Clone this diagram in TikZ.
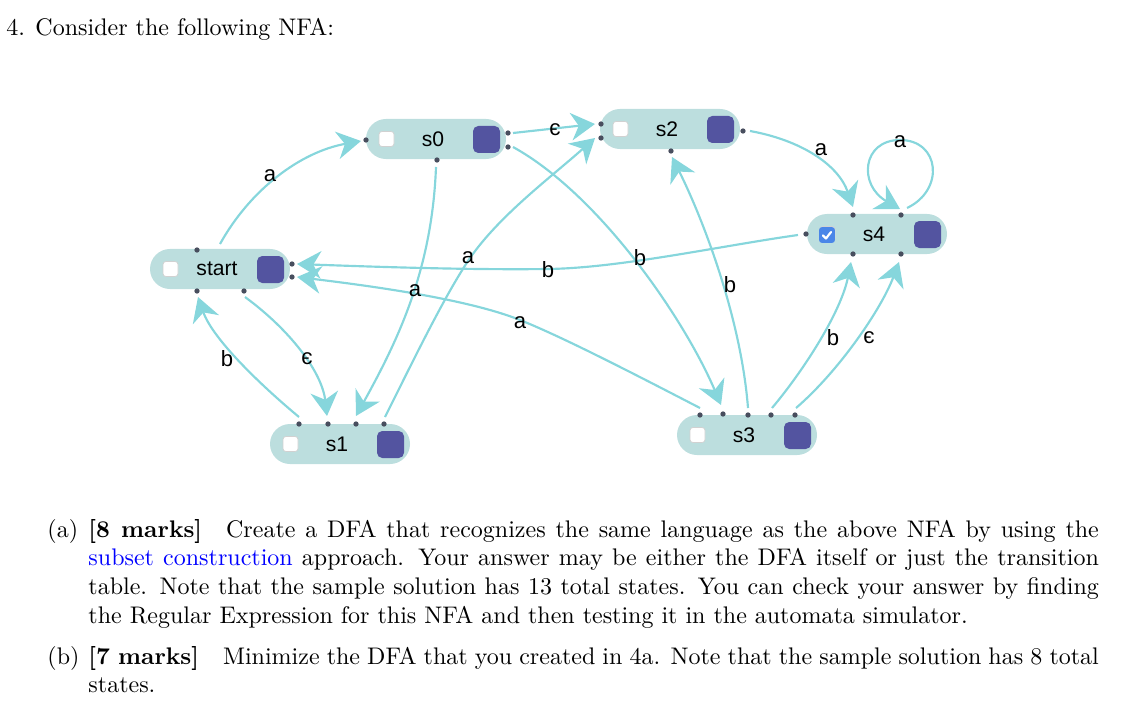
\documentclass[tikz,border=0pt]{standalone}
\usepackage{fontspec}
\newfontfamily\dfont{Liberation Sans}
\usetikzlibrary{arrows.meta,calc}
\definecolor{pillc}{RGB}{188,222,222}
\definecolor{accc}{RGB}{83,84,160}
\definecolor{edgec}{RGB}{134,214,220}
\definecolor{dotc}{RGB}{72,78,94}
\definecolor{chkblue}{RGB}{74,134,232}
\begin{document}
\begin{tikzpicture}[x=0.41667pt,y=-0.41667pt,
  pill/.style={fill=pillc, rounded corners=8.33pt, minimum width=58.33pt, minimum height=16.67pt, inner sep=0pt},
  chk/.style={fill=white, draw=black!18, line width=0.3pt, rounded corners=1.2pt, minimum size=6.25pt, inner sep=0pt},
  chkon/.style={fill=chkblue, rounded corners=1.2pt, minimum size=6.6pt, inner sep=0pt},
  acc/.style={fill=accc, rounded corners=2.2pt, minimum size=11.25pt, inner sep=0pt},
  slab/.style={font=\dfont\fontsize{8.8}{10}\selectfont, inner sep=0pt},
  elab/.style={font=\dfont\fontsize{9.2}{10}\selectfont, inner sep=0pt},
  port/.style={circle, fill=dotc, minimum size=2.2pt, inner sep=0pt},
  conn/.style={draw=edgec, line width=0.9pt, -{Stealth[length=10pt,width=11.5pt,inset=3.2pt]}},
  txt/.style={anchor=base west, inner sep=0pt, font=\fontsize{10}{12}\selectfont},
]
\useasboundingbox (0,0) rectangle (1144,704);

% ---------- text ----------
\node[txt] (num) at (6,36) {4.};
\node[txt] (title) at (35,36) {Consider the following NFA:};
\node[txt] (la) at (47,537) {(a)};
\node[txt] (ta) at (88,537) {\parbox[t]{421pt}{\textbf{[8 marks]}\quad Create a DFA that recognizes the same language as the above NFA by using the\linebreak \textcolor{blue}{subset construction} approach. Your answer may be either the DFA itself or just the transition\linebreak table. Note that the sample solution has 13 total states. You can check your answer by finding\linebreak the Regular Expression for this NFA and then testing it in the automata simulator.}};
\node[txt] (lb) at (47,664) {(b)};
\node[txt] (tb) at (88,664) {\parbox[t]{421pt}{\textbf{[7 marks]}\quad Minimize the DFA that you created in 4a. Note that the sample solution has 8 total\linebreak states.}};

% ---------- states ----------
\foreach \n/\x/\y/\t in {start/220/269/start, s0/436/139/s0, s2/670/129/s2, s4/877/234/s4, s1/340/444/s1, s3/747/435/s3}{
  \node[pill] (\n) at (\x,\y) {};
  \node[chk] (\n-chk) at (\x-49.5,\y) {};
  \node[slab] (\n-lab) at (\x-3,\y) {\t};
  \node[acc] (\n-acc) at (\x+50.5,\y+0.5) {};
}
\node[chkon] (s4-on) at (827,235) {};
\draw[white, line width=0.9pt, line cap=round, line join=round]
  ($(s4-on)+(-4,0.5)$) -- ($(s4-on)+(-1,3.5)$) -- ($(s4-on)+(4,-3)$);

% ---------- ports ----------
\foreach \p/\x/\y in {p0/366/140, p1/508/133, p2/508/147, p3/437/160,
  p4/197/250, p5/292/264, p6/292/277, p7/197/291, p8/244/291,
  p9/601/124, p10/601/138, p11/743/131, p12/671/151,
  p13/806/234, p14/853/215, p15/901/215, p16/853/254, p17/901/254,
  p18/299/424, p19/328/424, p20/356/424, p21/384/424,
  p22/700/415, p23/723/414, p24/748/415, p25/771/415, p26/795/415}{
  \node[port] (\p) at (\x,\y) {};
}

% ---------- connector ends ----------
\coordinate (e1s) at (220,244);  \coordinate (e1t) at (361,141);
\coordinate (e2s) at (513,133);  \coordinate (e2t) at (595,124);
\coordinate (e3s) at (513,147);  \coordinate (e3t) at (721,405);
\coordinate (e4s) at (750,131);  \coordinate (e4t) at (853,207);
\coordinate (e5s) at (907,208);  \coordinate (e5t) at (900,209);
\coordinate (e6s) at (798,235);  \coordinate (e6t) at (297,264);
\coordinate (e7s) at (700,408);  \coordinate (e7t) at (297,277);
\coordinate (e8s) at (245,297);  \coordinate (e8t) at (327,416);
\coordinate (e9s) at (299,417);  \coordinate (e9t) at (198,297);
\coordinate (e10s) at (436,167); \coordinate (e10t) at (356,416);
\coordinate (e11s) at (385,417); \coordinate (e11t) at (595,138);
\coordinate (e12s) at (748,408); \coordinate (e12t) at (672,157);
\coordinate (e13s) at (772,408); \coordinate (e13t) at (851,262);
\coordinate (e14s) at (796,408); \coordinate (e14t) at (899,262);

% ---------- connectors ----------
\draw[conn] (e1s) .. controls (250,190) and (300,152) .. (e1t);
\draw[conn] (e2s) -- (e2t);
\draw[conn] (e3s) .. controls (600,195) and (685,320) .. (e3t);
\draw[conn] (e4s) .. controls (800,140) and (838,164) .. (e4t);
\draw[conn] (e5s) .. controls (945,190) and (940,140) .. (900,140) .. controls (862,140) and (858,185) .. (e5t);
\draw[conn] (e6s) .. controls (720,246) and (620,268) .. (548,269) .. controls (470,270) and (380,267) .. (e6t);
\draw[conn] (e7s) .. controls (640,377) and (565,338) .. (520,320) .. controls (470,300) and (380,287) .. (e7t);
\draw[conn] (e8s) .. controls (290,330) and (322,372) .. (e8t);
\draw[conn] (e9s) .. controls (264,388) and (213,340) .. (e9t);
\draw[conn] (e10s) .. controls (432,270) and (398,340) .. (e10t);
\draw[conn] (e11s) .. controls (415,357) and (445,295) .. (470,258) .. controls (500,215) and (550,178) .. (e11t);
\draw[conn] (e12s) .. controls (741,318) and (703,219) .. (e12t);
\draw[conn] (e13s) .. controls (804,370) and (841,312) .. (e13t);
\draw[conn] (e14s) .. controls (838,372) and (881,310) .. (e14t);

% ---------- labels ----------
\node[elab] (l1) at (270,176) {a};
\node[elab] (l2) at (555,130) {є};
\node[elab] (l3) at (640,258) {b};
\node[elab] (l4) at (821,150) {a};
\node[elab] (l5) at (900,142) {a};
\node[elab] (l6) at (548,270) {b};
\node[elab] (l7) at (520,323) {a};
\node[elab] (l8) at (307,359) {є};
\node[elab] (l9) at (227,359) {b};
\node[elab] (l10) at (415,291) {a};
\node[elab] (l11) at (468,258) {a};
\node[elab] (l12) at (730,285) {b};
\node[elab] (l13) at (833,338) {b};
\node[elab] (l14) at (869,338) {є};
\end{tikzpicture}
\end{document}
